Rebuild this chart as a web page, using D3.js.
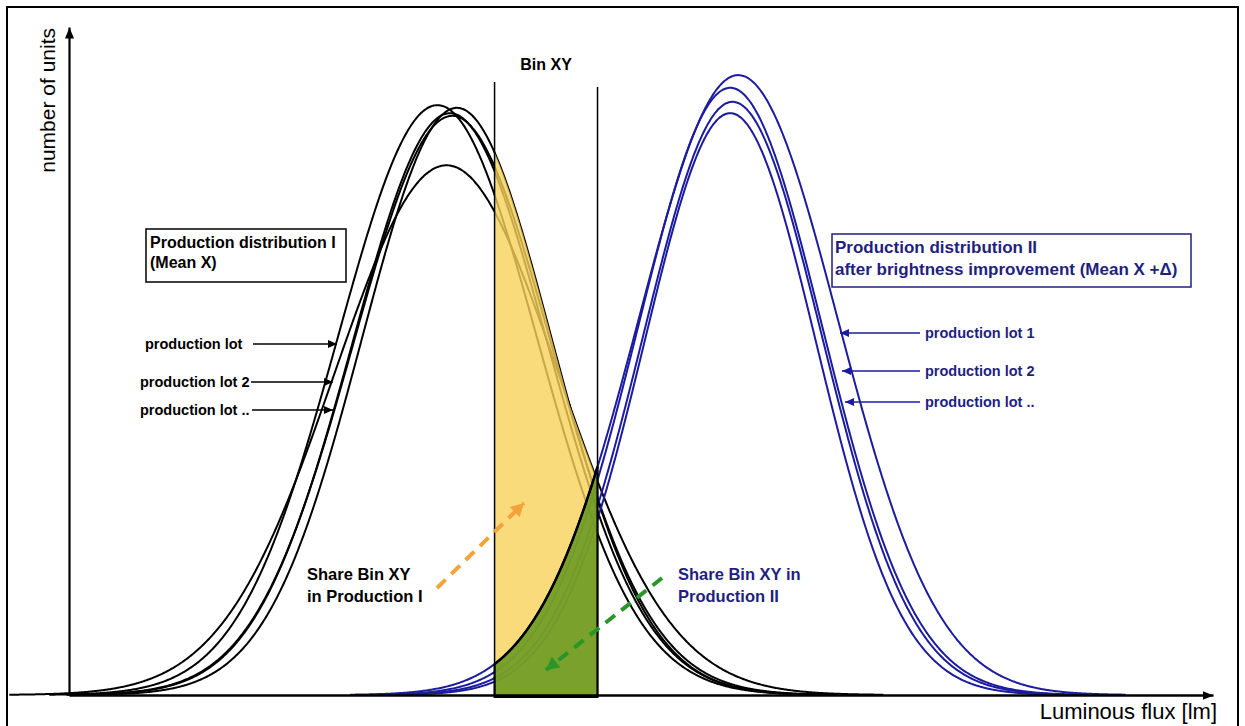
<!DOCTYPE html>
<html>
<head>
<meta charset="utf-8">
<script src="https://cdn.jsdelivr.net/npm/d3@7"></script>
<style>
    body { margin: 0; background: #fff; }
    text { font-family: "Liberation Sans", Arial, sans-serif; }
</style>
</head>
<body>
<div id="chart"></div>
<script>
// x in arbitrary luminous flux units (0-100), y in % of axis height
const lotsI = ["lot 1", "lot 2", "lot 3", "lot 4", "lot .."];
const meansI = [32.2, 33.9, 33.3, 33.0, 33.5];
const sdsI = [8.7, 8.3, 8.5, 9.8, 8.65];
const peaksI = [88.3, 87.9, 87.1, 79.3, 86.7];

const lotsII = ["lot 1", "lot 2", "lot 3", "lot .."];
const meansII = [58.5, 57.8, 58.0, 57.8];
const sdsII = [8.7, 8.05, 7.8, 7.5];
const peaksII = [92.8, 90.9, 88.8, 87.1];

const binXY = [37.2, 46.2];

const lotLabelsI = ["production lot", "production lot 2", "production lot .."];
const lotLabelsII = ["production lot 1", "production lot 2", "production lot .."];

const w = 1245;
const h = 726;

const x = d3.scaleLinear().domain([0, 100]).range([69, 1213]);
const y = d3.scaleLinear().domain([0, 100]).range([695, 27]);

const svg = d3.select("#chart")
    .append("svg")
    .attr("width", w)
    .attr("height", h);

const defs = svg.append("defs");
function arrowMarker(id, color, len, half) {
    defs.append("marker")
        .attr("id", id)
        .attr("markerUnits", "userSpaceOnUse")
        .attr("viewBox", `0 ${-half} ${len} ${half * 2}`)
        .attr("refX", len)
        .attr("refY", 0)
        .attr("markerWidth", len)
        .attr("markerHeight", half * 2)
        .attr("orient", "auto")
        .append("path")
        .attr("d", `M0,${-half}L${len},0L0,${half}Z`)
        .attr("fill", color);
}
arrowMarker("axisArrow", "#000", 11, 4.5);
arrowMarker("lotArrowK", "#000", 9, 4);
arrowMarker("lotArrowB", "#1c1ca0", 9, 4);
arrowMarker("orangeArrow", "#f4a23a", 13, 7);
arrowMarker("greenArrow", "#2a962a", 13, 7);

// outer frame
svg.append("rect")
    .attr("x", 7).attr("y", 7)
    .attr("width", 1231).attr("height", 760)
    .attr("fill", "none")
    .attr("stroke", "#000")
    .attr("stroke-width", 2);

// density of one lot
function density(mean, sd, peak, v) {
    return peak * Math.exp(-0.5 * ((v - mean) / sd) ** 2);
}
function curvePoints(mean, sd, peak) {
    return d3.range(mean - 3.9 * sd, mean + 3.9 * sd, 0.1)
        .map((v) => [v, density(mean, sd, peak, v)]);
}

const line = d3.line()
    .x((d) => x(d[0]))
    .y((d) => y(d[1]))
    .curve(d3.curveBasis);

// lot curves
svg.append("g")
    .selectAll("path")
    .data(lotsI)
    .enter()
    .append("path")
    .attr("d", (d, i) => line(curvePoints(meansI[i], sdsI[i], peaksI[i])))
    .attr("fill", "none")
    .attr("stroke", "#000")
    .attr("stroke-width", 2);

svg.append("g")
    .selectAll("path")
    .data(lotsII)
    .enter()
    .append("path")
    .attr("d", (d, i) => line(curvePoints(meansII[i], sdsII[i], peaksII[i])))
    .attr("fill", "none")
    .attr("stroke", "#1c1ca0")
    .attr("stroke-width", 2);

// shares inside the bin
const binSteps = d3.range(binXY[0], binXY[1] + 0.001, 0.05);
const topI = binSteps.map((v) => [v, d3.max(lotsI, (d, i) => density(meansI[i], sdsI[i], peaksI[i], v))]);
const topII = binSteps.map((v) => [v, d3.max(lotsII, (d, i) => density(meansII[i], sdsII[i], peaksII[i], v))]);

const area = d3.area()
    .x((d) => x(d[0]))
    .y0(y(0) + 2)
    .y1((d) => y(d[1]));

svg.append("path")
    .attr("d", area(topI))
    .attr("fill", "rgb(248,210,90)")
    .attr("fill-opacity", 0.8);

svg.append("path")
    .attr("d", area(topII))
    .attr("fill", "rgb(100,150,30)")
    .attr("fill-opacity", 0.85)
    .attr("stroke", "#000")
    .attr("stroke-width", 2);

svg.append("path")
    .attr("d", line(topII))
    .attr("fill", "none")
    .attr("stroke", "#000")
    .attr("stroke-width", 2.5);

// bin borders
svg.selectAll(".bin-line")
    .data(binXY)
    .enter()
    .append("line")
    .attr("class", "bin-line")
    .attr("x1", (d) => x(d))
    .attr("x2", (d) => x(d))
    .attr("y1", (d, i) => (i === 0 ? 82 : 87))
    .attr("y2", y(0) + 2)
    .attr("stroke", "#000")
    .attr("stroke-width", 1.5);

svg.append("text")
    .attr("x", x(d3.mean(binXY)))
    .attr("y", 70)
    .attr("text-anchor", "middle")
    .attr("font-weight", "bold")
    .attr("font-size", 16)
    .text("Bin XY");

// axes without ticks
const xAxis = d3.axisBottom(x).ticks(0).tickSizeOuter(0);
const yAxis = d3.axisLeft(y).ticks(0).tickSizeOuter(0);

svg.append("g")
    .attr("id", "x-axis")
    .attr("transform", `translate(0,${y(0)})`)
    .call(xAxis)
    .select(".domain")
    .attr("stroke-width", 2.5)
    .attr("marker-end", "url(#axisArrow)");

svg.append("g")
    .attr("id", "y-axis")
    .attr("transform", `translate(${x(0)},0)`)
    .call(yAxis)
    .select(".domain")
    .attr("stroke-width", 2.2)
    .attr("marker-end", "url(#axisArrow)");

svg.append("text")
    .attr("transform", "translate(55,28) rotate(-90)")
    .attr("text-anchor", "end")
    .attr("font-size", 21)
    .text("number of units");

svg.append("text")
    .attr("x", 1217)
    .attr("y", 719)
    .attr("text-anchor", "end")
    .attr("font-size", 22)
    .text("Luminous flux [lm]");

// legend boxes
svg.append("rect")
    .attr("x", 146).attr("y", 229)
    .attr("width", 200).attr("height", 53)
    .attr("fill", "#fff")
    .attr("stroke", "#000")
    .attr("stroke-width", 1.5);
svg.append("text")
    .attr("x", 150).attr("y", 248)
    .attr("font-weight", "bold").attr("font-size", 16)
    .text("Production distribution I");
svg.append("text")
    .attr("x", 150).attr("y", 268)
    .attr("font-weight", "bold").attr("font-size", 16)
    .text("(Mean X)");

svg.append("rect")
    .attr("x", 832).attr("y", 234)
    .attr("width", 359).attr("height", 53)
    .attr("fill", "#fff")
    .attr("stroke", "#1f1f80")
    .attr("stroke-width", 1.5);
svg.append("text")
    .attr("x", 835).attr("y", 253)
    .attr("font-weight", "bold").attr("font-size", 17)
    .attr("fill", "#1f1f80")
    .text("Production distribution II");
svg.append("text")
    .attr("x", 835).attr("y", 275)
    .attr("font-weight", "bold").attr("font-size", 17)
    .attr("fill", "#1f1f80")
    .text("after brightness improvement (Mean X +\u0394)");

// lot pointers
const lotRowsI = [344, 382, 410];
const lotStartI = [145, 140, 140];
const lotArrowI = [[253, 337], [251, 333], [252, 333]];
lotLabelsI.forEach((t, i) => {
    svg.append("text")
        .attr("x", lotStartI[i]).attr("y", lotRowsI[i] + 5)
        .attr("font-weight", "bold").attr("font-size", 14.5)
        .text(t);
    svg.append("line")
        .attr("x1", lotArrowI[i][0]).attr("x2", lotArrowI[i][1])
        .attr("y1", lotRowsI[i]).attr("y2", lotRowsI[i])
        .attr("stroke", "#000").attr("stroke-width", 1.3)
        .attr("marker-end", "url(#lotArrowK)");
});

const lotRowsII = [333, 371, 402];
const lotTipII = [840, 842, 845];
lotLabelsII.forEach((t, i) => {
    svg.append("text")
        .attr("x", 925).attr("y", lotRowsII[i] + 5)
        .attr("font-weight", "bold").attr("font-size", 14.5)
        .attr("fill", "#1f1f80")
        .text(t);
    svg.append("line")
        .attr("x1", 920).attr("x2", lotTipII[i])
        .attr("y1", lotRowsII[i]).attr("y2", lotRowsII[i])
        .attr("stroke", "#1c1ca0").attr("stroke-width", 1.3)
        .attr("marker-end", "url(#lotArrowB)");
});

// share annotations
svg.append("text")
    .attr("x", 307).attr("y", 580)
    .attr("font-weight", "bold").attr("font-size", 16.5)
    .text("Share Bin XY");
svg.append("text")
    .attr("x", 307).attr("y", 602)
    .attr("font-weight", "bold").attr("font-size", 16.5)
    .text("in Production I");
svg.append("line")
    .attr("x1", 437).attr("y1", 588)
    .attr("x2", 524).attr("y2", 503)
    .attr("stroke", "#f4a23a").attr("stroke-width", 4)
    .attr("stroke-dasharray", "12,8")
    .attr("marker-end", "url(#orangeArrow)");

svg.append("text")
    .attr("x", 678).attr("y", 580)
    .attr("font-weight", "bold").attr("font-size", 16.5)
    .attr("fill", "#1f1f80")
    .text("Share Bin XY in");
svg.append("text")
    .attr("x", 678).attr("y", 602)
    .attr("font-weight", "bold").attr("font-size", 16.5)
    .attr("fill", "#1f1f80")
    .text("Production II");
svg.append("line")
    .attr("x1", 662).attr("y1", 578)
    .attr("x2", 546).attr("y2", 670)
    .attr("stroke", "#2a962a").attr("stroke-width", 4)
    .attr("stroke-dasharray", "12,8")
    .attr("marker-end", "url(#greenArrow)");
</script>
</body>
</html>
